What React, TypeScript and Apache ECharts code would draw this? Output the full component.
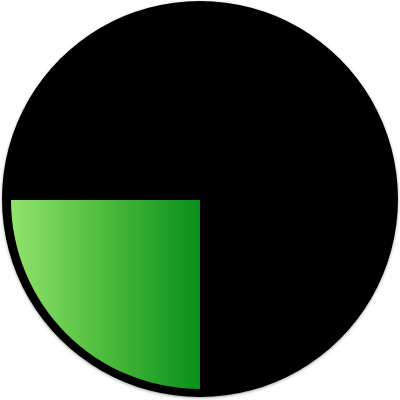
import React, { useEffect, useRef } from 'react';
import * as echarts from 'echarts';

const sliceNames = ['done', 'rest'];
const sliceValues = [25, 75];

const App: React.FC = () => {
  const chartRef = useRef<HTMLDivElement>(null);

  useEffect(() => {
    document.body.style.margin = '0';
    if (!chartRef.current) return;
    const chart = echarts.init(chartRef.current, null, { renderer: 'svg' });

    chart.setOption({
      animation: false,
      series: [
        {
          // black disc behind the slice
          type: 'pie',
          center: [200, 199],
          radius: [0, 198],
          silent: true,
          label: { show: false },
          labelLine: { show: false },
          itemStyle: {
            color: '#000',
            shadowBlur: 3,
            shadowOffsetY: 1,
            shadowColor: 'rgba(0,0,0,0.35)',
          },
          data: [{ name: 'bg', value: 1 }],
        },
        {
          type: 'pie',
          center: [200, 200],
          radius: [0, 189],
          startAngle: 180,
          clockwise: false,
          label: { show: false },
          labelLine: { show: false },
          data: sliceNames.map((name, i) => ({
            name,
            value: sliceValues[i],
            itemStyle:
              i === 0
                ? {
                    color: new echarts.graphic.LinearGradient(0, 0, 1, 0, [
                      { offset: 0, color: '#92e36c' },
                      { offset: 0.5, color: '#4cbb3c' },
                      { offset: 1, color: '#088f1c' },
                    ]),
                  }
                : { color: 'transparent' },
          })),
        },
      ],
    });

    return () => {
      chart.dispose();
    };
  }, []);

  return <div ref={chartRef} style={{ width: '400px', height: '400px' }}></div>;
};

export default App;
